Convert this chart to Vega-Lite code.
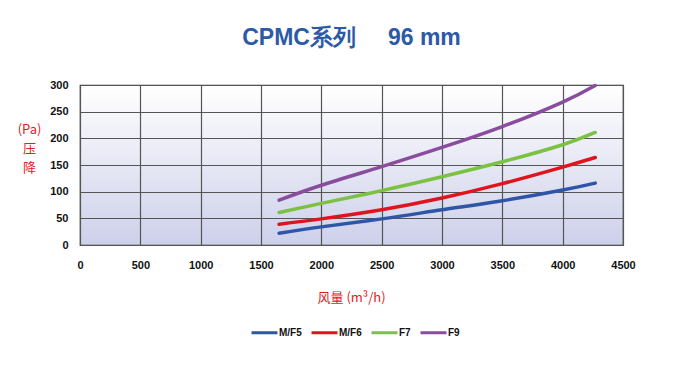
{
  "$schema": "https://vega.github.io/schema/vega-lite/v6.json",
  "autosize": "none",
  "width": 543,
  "height": 160,
  "padding": {"left": 80, "top": 85, "right": 57, "bottom": 140},
  "background": "white",
  "title": {
    "text": "CPMC系列\u00a0\u00a0\u00a0\u00a0\u00a096 mm",
    "font": "Liberation Sans Narrow, Liberation Sans",
    "fontSize": 23,
    "fontWeight": "bold",
    "color": "#2d5aa6",
    "anchor": "middle",
    "offset": 29
  },
  "view": {
    "fill": {"expr": "{gradient: 'linear', x1: 0, y1: 0, x2: 0, y2: 1, stops: [{offset: 0, color: '#ffffff'}, {offset: 1, color: '#cdd0ea'}]}"},
    "stroke": "#333",
    "strokeWidth": 1.2
  },
  "data": {
    "values": [
      {"flow": 1650, "pa": 22, "series": "M/F5"},
      {"flow": 2000, "pa": 34, "series": "M/F5"},
      {"flow": 2500, "pa": 49, "series": "M/F5"},
      {"flow": 3000, "pa": 66, "series": "M/F5"},
      {"flow": 3500, "pa": 83, "series": "M/F5"},
      {"flow": 4000, "pa": 103, "series": "M/F5"},
      {"flow": 4270, "pa": 116, "series": "M/F5"},
      {"flow": 1650, "pa": 39, "series": "M/F6"},
      {"flow": 2000, "pa": 49, "series": "M/F6"},
      {"flow": 2500, "pa": 66, "series": "M/F6"},
      {"flow": 3000, "pa": 88, "series": "M/F6"},
      {"flow": 3500, "pa": 115, "series": "M/F6"},
      {"flow": 4000, "pa": 146, "series": "M/F6"},
      {"flow": 4270, "pa": 164, "series": "M/F6"},
      {"flow": 1650, "pa": 61, "series": "F7"},
      {"flow": 2000, "pa": 78, "series": "F7"},
      {"flow": 2500, "pa": 102, "series": "F7"},
      {"flow": 3000, "pa": 128, "series": "F7"},
      {"flow": 3500, "pa": 156, "series": "F7"},
      {"flow": 4000, "pa": 188, "series": "F7"},
      {"flow": 4270, "pa": 211, "series": "F7"},
      {"flow": 1650, "pa": 84, "series": "F9"},
      {"flow": 2000, "pa": 112, "series": "F9"},
      {"flow": 2500, "pa": 147, "series": "F9"},
      {"flow": 3000, "pa": 183, "series": "F9"},
      {"flow": 3500, "pa": 222, "series": "F9"},
      {"flow": 4000, "pa": 268, "series": "F9"},
      {"flow": 4270, "pa": 299, "series": "F9"}
    ]
  },
  "mark": {"type": "line", "interpolate": "natural", "strokeWidth": 3.5, "strokeCap": "round"},
  "encoding": {
    "x": {
      "field": "flow", "type": "quantitative",
      "scale": {"domain": [0, 4500], "nice": false},
      "axis": {
        "values": [0, 500, 1000, 1500, 2000, 2500, 3000, 3500, 4000, 4500],
        "format": "d",
        "labelFlush": false,
        "labelOverlap": false,
        "title": "风量 (m³/h)",
        "titleColor": "#e0201e",
        "titleFont": "Noto Sans CJK SC",
        "titleFontSize": 13,
        "titleFontWeight": "normal",
        "titleX": 271,
        "titleY": 52,
        "titleBaseline": "middle",
        "titleAnchor": "middle"
      }
    },
    "y": {
      "field": "pa", "type": "quantitative",
      "scale": {"domain": [0, 300], "nice": false},
      "axis": {
        "values": [0, 50, 100, 150, 200, 250, 300],
        "format": "d",
        "labelFlush": false,
        "labelOverlap": false,
        "title": ["(Pa)", "压", "降"],
        "titleColor": "#e0201e",
        "titleFont": "Noto Sans CJK SC",
        "titleFontSize": 13,
        "titleFontWeight": "normal",
        "titleAngle": 0,
        "titleAlign": "center",
        "titleBaseline": "top",
        "titleX": -51,
        "titleY": 38,
        "titleLineHeight": 19
      }
    },
    "color": {
      "field": "series", "type": "nominal",
      "scale": {
        "domain": ["M/F5", "M/F6", "F7", "F9"],
        "range": ["#2f56a6", "#e0141e", "#7cc242", "#8a4d9e"]
      },
      "legend": {
        "title": null,
        "orient": "none",
        "legendX": 170,
        "legendY": 233,
        "direction": "horizontal",
        "symbolType": "stroke",
        "symbolSize": 676,
        "symbolStrokeWidth": 3,
        "labelFont": "Liberation Sans Narrow, Liberation Sans",
        "labelFontSize": 10,
        "labelFontWeight": "bold",
        "labelColor": "#111",
        "labelOffset": 0,
        "columnPadding": 3
      }
    }
  },
  "config": {
    "axis": {
      "grid": true,
      "gridColor": "#555",
      "gridWidth": 1.2,
      "gridOpacity": 1,
      "domain": false,
      "ticks": false,
      "labelFont": "Liberation Sans Narrow, Liberation Sans",
      "labelFontSize": 11,
      "labelFontWeight": "bold",
      "labelColor": "#111"
    },
    "axisX": {"labelPadding": 14},
    "axisY": {"labelPadding": 12}
  }
}
